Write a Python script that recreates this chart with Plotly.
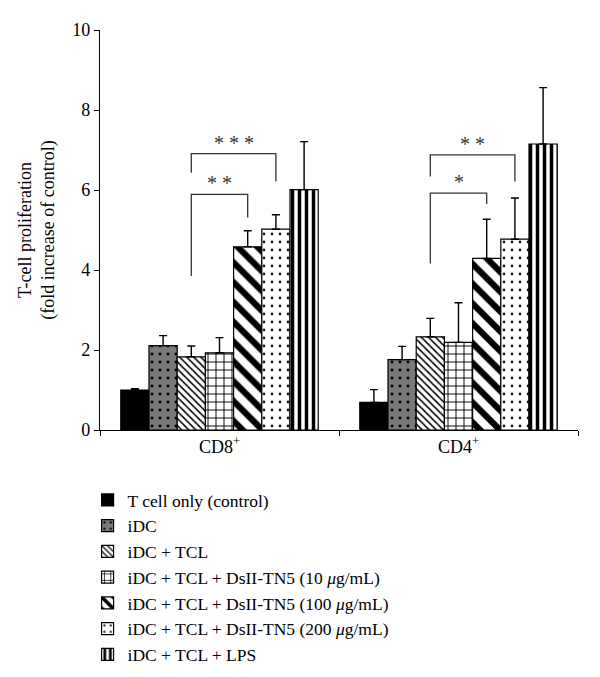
import plotly.graph_objects as go

# ---- data ----
groups = ["CD8<sup>+</sup>", "CD4<sup>+</sup>"]
conditions = [
    "T cell only (control)",
    "iDC",
    "iDC + TCL",
    "iDC + TCL + DsII-TN5 (10 <i>μ</i>g/mL)",
    "iDC + TCL + DsII-TN5 (100 <i>μ</i>g/mL)",
    "iDC + TCL + DsII-TN5 (200 <i>μ</i>g/mL)",
    "iDC + TCL + LPS",
]
cd8_mean = [1.00, 2.11, 1.83, 1.93, 4.58, 5.02, 6.01]
cd8_err = [0.03, 0.25, 0.27, 0.38, 0.40, 0.36, 1.20]
cd4_mean = [0.69, 1.76, 2.33, 2.19, 4.29, 4.77, 7.15]
cd4_err = [0.32, 0.33, 0.46, 0.99, 0.98, 1.03, 1.41]

# significance brackets: (group index, left bar, right bar, top, left end, right end, label)
sig_brackets = [
    (0, 2, 4, 5.89, 3.85, 5.31, "* *"),
    (0, 2, 5, 6.91, 6.43, 6.21, "* * *"),
    (1, 2, 4, 5.92, 4.16, 5.65, "*"),
    (1, 2, 5, 6.88, 6.34, 6.21, "* *"),
]

# ---- styles ----
FONT = "Liberation Serif"
def pat(shape, fg, bg, size, sol):
    return dict(shape=shape, fgcolor=fg, bgcolor=bg, size=size, solidity=sol,
                fgopacity=1, fillmode="replace")

styles = [
    dict(color="black", pattern=dict(shape="")),
    dict(color="#7a7a7a", pattern=pat(".", "black", "#7a7a7a", 8, 0.1)),
    dict(color="white", pattern=pat("\\", "black", "white", 5, 0.3)),
    dict(color="white", pattern=pat("+", "black", "white", 8, 0.22)),
    dict(color="white", pattern=pat("\\", "black", "white", 14, 0.45)),
    dict(color="white", pattern=pat(".", "#222222", "white", 8, 0.1)),
    dict(color="white", pattern=pat("|", "black", "white", 7, 0.5)),
]

BARGAP = 0.174
fig = go.Figure()
for i, name in enumerate(conditions):
    st = styles[i]
    fig.add_trace(go.Bar(
        name=name,
        x=groups,
        y=[cd8_mean[i], cd4_mean[i]],
        error_y=dict(type="data", symmetric=False, array=[cd8_err[i], cd4_err[i]],
                     arrayminus=[0, 0], color="black", thickness=1.4, width=4),
        marker=dict(color=st["color"], pattern=st["pattern"],
                    line=dict(color="black", width=1.2)),
    ))

n = len(conditions)
bw = (1 - BARGAP) / n
def bar_x(g, i):
    return g - (1 - BARGAP) / 2 + (i + 0.5) * bw

for g, l, r, top, lb, rb, lab in sig_brackets:
    xl, xr = bar_x(g, l), bar_x(g, r)
    fig.add_shape(type="path",
                  path=f"M {xl},{lb} L {xl},{top} L {xr},{top} L {xr},{rb}",
                  xref="x", yref="y", line=dict(color="#333333", width=1.3))
    fig.add_annotation(x=(xl + xr) / 2, y=top, xref="x", yref="y", text=lab,
                       showarrow=False, yanchor="bottom", yshift=-2,
                       font=dict(family=FONT, size=20, color="#333333"))

fig.update_layout(
    width=600, height=677,
    margin=dict(l=100, r=22, t=30, b=246.5, autoexpand=False),
    plot_bgcolor="white", paper_bgcolor="white",
    barmode="group", bargap=BARGAP, bargroupgap=0,
    font=dict(family=FONT, size=18, color="black"),
    showlegend=True,
    legend=dict(x=-0.026, xanchor="left", y=-0.13, yanchor="top",
                font=dict(family=FONT, size=17.5, color="black"),
                tracegroupgap=0, bgcolor="rgba(0,0,0,0)"),
    xaxis=dict(type="category", tickson="boundaries", ticks="outside", ticklen=5,
               tickcolor="black", showline=True, linecolor="black", linewidth=1.2,
               showgrid=False, tickfont=dict(family=FONT, size=18, color="black")),
    yaxis=dict(range=[0, 10], tickvals=[0, 2, 4, 6, 8, 10], ticks="outside", ticklen=5,
               tickcolor="black", showline=True, linecolor="black", linewidth=1.2,
               showgrid=False, zeroline=False,
               tickfont=dict(family=FONT, size=18, color="black"),
               title=dict(text="T-cell proliferation<br>(fold increase of control)",
                          font=dict(family=FONT, size=18, color="black"), standoff=12)),
)

fig.write_html("out.html", config={"displayModeBar": False},
               post_script="document.body.style.margin='0';document.body.style.padding='0';")
